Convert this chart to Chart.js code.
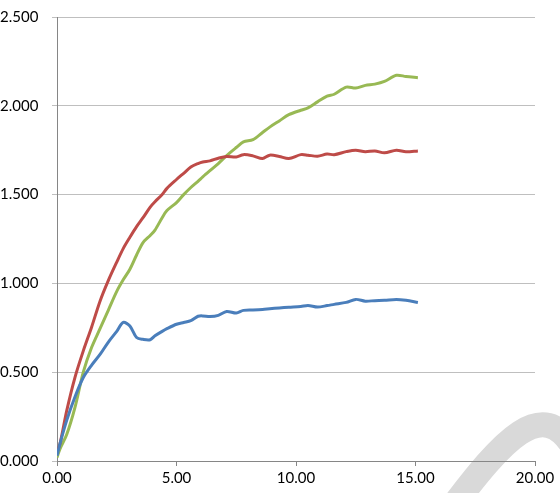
<!DOCTYPE html>
<html>
<head>
<meta charset="utf-8">
<script src="https://cdn.jsdelivr.net/npm/chart.js@4.4.1/dist/chart.umd.min.js"></script>
<style>
  html, body { margin: 0; padding: 0; background: #fff; }
  #wrap { width: 560px; height: 493px; position: relative; }
</style>
</head>
<body>
<div id="wrap"><canvas id="lineChart"></canvas></div>
<script>
// Valores
const xValues = [0, 0.13, 0.41, 0.75, 1.1, 1.45, 1.8, 2.15, 2.5, 2.77, 3.05, 3.33, 3.6, 3.9, 4.1,
    4.4, 4.6, 5.0, 5.3, 5.6, 5.9, 6.1, 6.4, 6.75, 7.1, 7.5, 7.8, 8.2, 8.6, 8.9, 9.3, 9.7,
    10.2, 10.5, 10.9, 11.3, 11.6, 12.1, 12.5, 12.9, 13.3, 13.7, 14.2, 14.6, 15.1];

const blueValues = [0.03, 0.10, 0.23, 0.36, 0.47, 0.54, 0.60, 0.67, 0.73, 0.78, 0.76, 0.695, 0.685, 0.683, 0.705,
    0.73, 0.745, 0.77, 0.78, 0.79, 0.815, 0.817, 0.813, 0.82, 0.842, 0.833, 0.848, 0.85, 0.853, 0.857, 0.862, 0.866,
    0.87, 0.876, 0.867, 0.875, 0.882, 0.893, 0.91, 0.9, 0.903, 0.905, 0.91, 0.905, 0.893];

const redValues = [0.05, 0.10, 0.285, 0.47, 0.62, 0.755, 0.90, 1.017, 1.12, 1.196, 1.26, 1.32, 1.37, 1.43, 1.46,
    1.50, 1.535, 1.585, 1.62, 1.655, 1.675, 1.684, 1.69, 1.705, 1.715, 1.712, 1.725, 1.718, 1.703, 1.722, 1.715, 1.703,
    1.725, 1.722, 1.716, 1.728, 1.725, 1.742, 1.75, 1.741, 1.746, 1.735, 1.75, 1.741, 1.746];

const greenValues = [0.02, 0.07, 0.15, 0.30, 0.50, 0.64, 0.745, 0.85, 0.955, 1.02, 1.08, 1.16, 1.23, 1.27, 1.30,
    1.37, 1.41, 1.455, 1.50, 1.54, 1.575, 1.60, 1.635, 1.675, 1.72, 1.765, 1.797, 1.81, 1.85, 1.88, 1.915, 1.95,
    1.975, 1.988, 2.022, 2.055, 2.065, 2.105, 2.10, 2.115, 2.122, 2.137, 2.172, 2.165, 2.158];

const xTicks = [0, 5, 10, 15, 20];
const yTicks = [0, 0.5, 1, 1.5, 2, 2.5];

function toPoints(ys) {
    return xValues.map((x, i) => ({ x: x, y: ys[i] }));
}

function serie(ys, color) {
    return {
        data: toPoints(ys),
        borderColor: color,
        borderWidth: 3,
        pointRadius: 0,
        tension: 0.3,
        fill: false
    };
}

// Arco gris decorativo de la esquina
const arcoGris = {
    id: 'arcoGris',
    beforeDraw(chart) {
        const c = chart.ctx;
        c.save();
        c.strokeStyle = '#d9d9d9';
        c.lineWidth = 25;
        c.lineCap = 'butt';
        c.beginPath();
        c.moveTo(450, 510);
        c.bezierCurveTo(503, 440, 542, 395, 574, 448);
        c.stroke();
        c.restore();
    }
};

Chart.defaults.font.family = 'Lato, "Open Sans", sans-serif';
Chart.defaults.font.size = 15;
Chart.defaults.color = '#000';

const ctx = document.getElementById('lineChart').getContext('2d');
const myChart = new Chart(ctx, {
    type: 'line',
    data: {
        datasets: [
            serie(blueValues, '#4a7ebb'),
            serie(redValues, '#be4b48'),
            serie(greenValues, '#98b954')
        ]
    },
    options: {
        responsive: true,
        maintainAspectRatio: false,
        animation: false,
        layout: { padding: { top: 17, right: 25, left: 0, bottom: 3 } },
        scales: {
            x: {
                type: 'linear',
                min: 0,
                max: 20,
                afterBuildTicks: (axis) => { axis.ticks = xTicks.map(v => ({ value: v })); },
                ticks: {
                    callback: (v) => v.toFixed(2),
                    padding: 3,
                    maxRotation: 0
                },
                grid: { drawOnChartArea: false, tickLength: 5, color: '#868686' },
                border: { color: '#868686' }
            },
            y: {
                min: 0,
                max: 2.5,
                afterBuildTicks: (axis) => { axis.ticks = yTicks.map(v => ({ value: v })); },
                afterFit: (axis) => { axis.width = 57; },
                ticks: {
                    callback: (v) => v.toFixed(3),
                    crossAlign: 'far',
                    padding: 4
                },
                grid: { color: '#bfbfbf', tickLength: 5 },
                border: { color: '#868686' }
            }
        },
        plugins: {
            legend: { display: false },
            tooltip: { enabled: false }
        }
    },
    plugins: [arcoGris]
});
</script>
</body>
</html>
